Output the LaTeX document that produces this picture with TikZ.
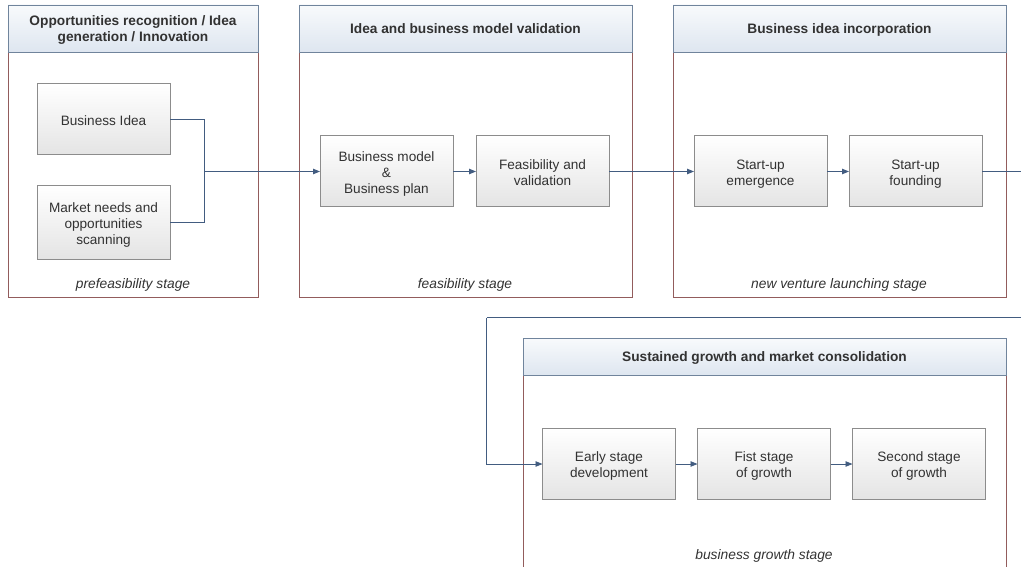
\documentclass[tikz,border=0pt]{standalone}
\usepackage{fontspec}
\setmainfont{Liberation Sans}
\usepackage{xcolor}
\usepackage{tikz}
\usetikzlibrary{positioning,arrows.meta}
\definecolor{hdrline}{RGB}{112,132,156}
\definecolor{hdrtop}{RGB}{248,250,252}
\definecolor{hdrbot}{RGB}{222,230,240}
\definecolor{frameline}{RGB}{146,92,92}
\definecolor{boxline}{RGB}{140,140,140}
\definecolor{boxbot}{RGB}{228,228,228}
\definecolor{flow}{RGB}{66,92,128}
\definecolor{txt}{RGB}{50,50,50}
\newcommand{\hstrut}{\rule{0pt}{13.3pt}}
\newcommand{\tstrut}{\rule{0pt}{15.2pt}}
\newcommand{\dstrut}{\rule[-3.5pt]{0pt}{3.5pt}}

\begin{document}
\begin{tikzpicture}[
  x=1pt, y=-1pt,
  frame/.style={draw=frameline, line width=0.9pt, minimum width=#1, anchor=north west, inner sep=0pt, outer sep=0pt},
  hdr/.style={draw=hdrline, line width=0.9pt, top color=hdrtop, bottom color=hdrbot, minimum width=#1, minimum height=47pt, anchor=north, align=center, text=txt, font=\fontsize{13.7}{16}\selectfont\bfseries, inner sep=2pt, outer sep=0pt},
  box/.style={draw=boxline, line width=1pt, top color=white, bottom color=boxbot, minimum width=133pt, minimum height=71pt, align=center, text=txt, font=\fontsize{13.6}{16}\selectfont, inner sep=2pt, outer sep=0pt},
  foot/.style={font=\fontsize{13.8}{16}\selectfont\itshape, text=txt, inner sep=0pt},
  arr/.style={-{Triangle[length=7pt, width=5.5pt]}, draw=flow, line width=0.8pt},
  ln/.style={draw=flow, line width=0.8pt}
]
\useasboundingbox (0,0) rectangle (1021,567);

% stage frames
\node[frame=250pt, minimum height=292pt] (p1) at (8,5) {};
\node[frame=333pt, minimum height=292pt] (p2) at (299,5) {};
\node[frame=333pt, minimum height=292pt] (p3) at (673,5) {};
\node[frame=483pt, minimum height=229pt] (p4) at (523,338) {};

\node[hdr=250pt] (h1) at (p1.north) {\hstrut Opportunities recognition / Idea\\generation / Innovation\dstrut};
\node[hdr=333pt] (h2) at (p2.north) {\hstrut Idea and business model validation\dstrut};
\node[hdr=333pt] (h3) at (p3.north) {\hstrut Business idea incorporation\dstrut};
\node[hdr=483pt, minimum height=37pt] (h4) at (p4.north) {\hstrut Sustained growth and market consolidation\dstrut};

\node[foot] (f1) at (133,285) {prefeasibility stage};
\node[foot] (f2) at (465,285) {feasibility stage};
\node[foot] (f3) at (839,285) {new venture launching stage};
\node[foot] (f4) at (764,556) {business growth stage};

% steps
\node[box] (idea) at (103.5,119.5) {\tstrut Business Idea\dstrut};
\node[box, minimum height=73pt] (scan) at (103.5,222.5) {\tstrut Market needs and\\opportunities\\scanning\dstrut};
\node[box] (bmodel) at (386.5,171.5) {\tstrut Business model\\\&\\Business plan\dstrut};
\node[box, right=23pt of bmodel] (feas) {\tstrut Feasibility and\\validation\dstrut};
\node[box] (emerg) at (760.5,171.5) {\tstrut Start-up\\emergence\dstrut};
\node[box, right=22pt of emerg] (found) {\tstrut Start-up\\founding\dstrut};
\node[box] (early) at (609,464) {\tstrut Early stage\\development\dstrut};
\node[box, right=22pt of early] (first) {\tstrut Fist stage\\of growth\dstrut};
\node[box, right=22pt of first] (second) {\tstrut Second stage\\of growth\dstrut};

% connectors
\coordinate (join) at (204,171.5);
\coordinate (turn) at (1030,171.5);
\coordinate (back) at (486.5,317.5);
\draw[ln] (idea.east) -| (join);
\draw[ln] (scan.east) -| (join);
\draw[arr] (join) -- (bmodel.west);
\draw[arr] (bmodel) -- (feas);
\draw[arr] (feas) -- (emerg);
\draw[arr] (emerg) -- (found);
\draw[ln] (found.east) -- (turn) |- (back);
\draw[arr] (back) |- (early.west);
\draw[arr] (early) -- (first);
\draw[arr] (first) -- (second);
\end{tikzpicture}
\end{document}
